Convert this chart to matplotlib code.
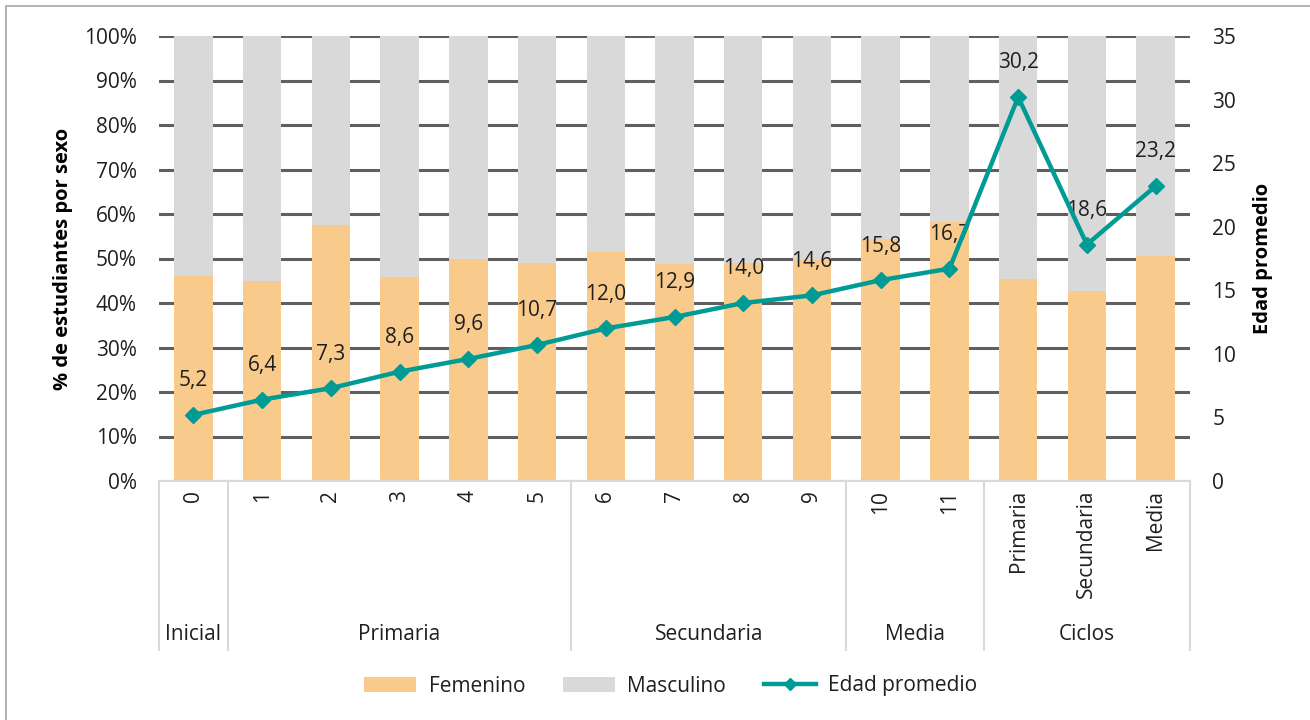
import matplotlib
matplotlib.use("Agg")
import matplotlib.pyplot as plt
from matplotlib.lines import Line2D
from matplotlib.patches import Rectangle, Patch
import matplotlib.transforms as mtransforms

plt.rcParams['font.family'] = ['Open Sans', 'DejaVu Sans']

# ---- data ----
tick_labels = ["0", "1", "2", "3", "4", "5", "6", "7", "8", "9", "10", "11",
               "Primaria", "Secundaria", "Media"]
groups = ["Inicial", "Primaria", "Secundaria", "Media", "Ciclos"]
group_sizes = [1, 5, 4, 2, 3]
femenino = [46.1, 45.0, 57.5, 45.9, 50.0, 49.1, 51.5, 48.8, 48.9, 49.7,
            54.4, 58.3, 45.3, 42.8, 50.6]
masculino = [100 - v for v in femenino]
edad = [5.2, 6.4, 7.3, 8.6, 9.6, 10.7, 12.0, 12.9, 14.0, 14.6, 15.8, 16.7,
        30.2, 18.6, 23.2]
edad_labels = [f"{v:.1f}".replace(".", ",") for v in edad]

W, H = 1310, 720
C_FEM = "#F8CB8C"
C_MAS = "#D9D9D9"
C_LINE = "#009B95"
C_GRID = "#5F5F5F"
C_SEP = "#D9D9D9"
C_TXT = "#1f1f1f"
FS = 15

fig = plt.figure(figsize=(W / 100, H / 100), dpi=100)
x0, x1, yb, yt = 159, 1190, 481, 36
ax = fig.add_axes([x0 / W, 1 - yb / H, (x1 - x0) / W, (yb - yt) / H])

x = list(range(len(tick_labels)))
ax.bar(x, femenino, width=0.56, color=C_FEM, zorder=2, label="Femenino")
ax.bar(x, masculino, width=0.56, bottom=femenino, color=C_MAS, zorder=2, label="Masculino")
ax.set_xlim(-0.5, len(x) - 0.5)
ax.set_ylim(0, 100)
ax.set_yticks(range(0, 101, 10))
ax.set_yticklabels([f"{v}%" for v in range(0, 101, 10)], fontsize=FS, color=C_TXT)
ax.yaxis.grid(True, color=C_GRID, linewidth=2.2, zorder=1)
ax.set_axisbelow(True)
ax.tick_params(axis='y', length=0, pad=16)
ax.tick_params(axis='x', length=0)
ax.set_xticks([])
for s in ["top", "right", "left"]:
    ax.spines[s].set_visible(False)
ax.spines["bottom"].set_color(C_SEP)
ax.spines["bottom"].set_linewidth(1.5)
ax.set_ylabel("% de estudiantes por sexo", fontsize=14.5, fontweight="bold", labelpad=8)

ax2 = ax.twinx()
ax2.set_ylim(0, 35)
ax2.set_yticks(range(0, 36, 5))
ax2.set_yticklabels([str(v) for v in range(0, 36, 5)], fontsize=FS, color=C_TXT)
ax2.tick_params(axis='y', length=0, pad=16)
for s in ["top", "right", "left", "bottom"]:
    ax2.spines[s].set_visible(False)
ax2.plot(x, edad, color=C_LINE, linewidth=3.2, marker="D", markersize=8.5,
         zorder=5, label="Edad promedio")
for xi, v, lab in zip(x, edad, edad_labels):
    ax2.annotate(lab, (xi, v), xytext=(0, 17), textcoords="offset points",
                 ha="center", va="bottom", fontsize=FS, color=C_TXT)
ax2.set_ylabel("Edad promedio", fontsize=14.5, fontweight="bold", labelpad=12)

# category axis
trans = mtransforms.blended_transform_factory(ax.transData, fig.transFigure)
for xi, lab in zip(x, tick_labels):
    ax.text(xi, 1 - 490 / H, lab, transform=trans, rotation=90, ha="center",
            va="top", fontsize=FS, color=C_TXT)
pos = -0.5
sep_positions = [pos]
for g, n in zip(groups, group_sizes):
    center = pos + n / 2
    ax.text(center, 1 - 635 / H, g, transform=trans, ha="center", va="center",
            fontsize=FS, color=C_TXT)
    pos += n
    sep_positions.append(pos)
for sp in sep_positions:
    fig.add_artist(Line2D([sp, sp], [1 - 481 / H, 1 - 650 / H], transform=trans,
                          color=C_SEP, linewidth=1.5))

# legend
handles = [Patch(facecolor=C_FEM, edgecolor="none"),
           Patch(facecolor=C_MAS, edgecolor="none"),
           Line2D([0], [0], color=C_LINE, linewidth=3.2, marker="D", markersize=6)]
fig.legend(handles, ["Femenino", "Masculino", "Edad promedio"], loc="center",
           bbox_to_anchor=(0.512, 1 - 686 / H), ncol=3, frameon=False, fontsize=FS,
           handlelength=2.5, handleheight=0.75, columnspacing=1.8, handletextpad=0.6,
           labelcolor=C_TXT)

# figure border
fig.add_artist(Rectangle((6 / W, -0.01), 1.2, 1 - 6 / H + 0.01, transform=fig.transFigure,
                         fill=False, edgecolor="#A6A6A6", linewidth=1.2))

fig.savefig("out.png", dpi=100)
